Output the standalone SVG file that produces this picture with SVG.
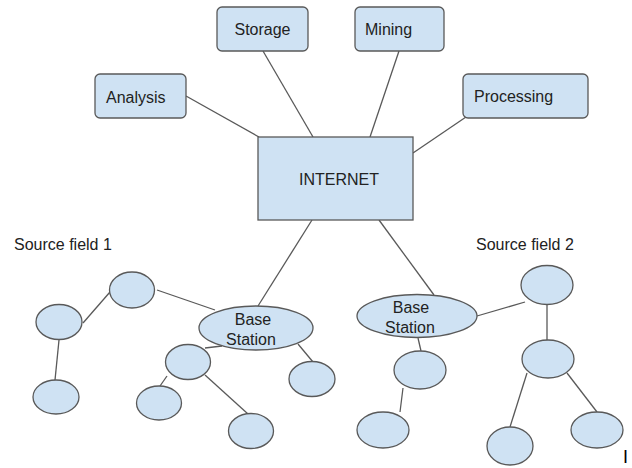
<svg xmlns="http://www.w3.org/2000/svg" width="632" height="468" viewBox="0 0 632 468">
<style>
.box{fill:#cfe2f3;stroke:#595959;stroke-width:1.3}
.nd{fill:#cfe2f3;stroke:#595959;stroke-width:1.3}
.ln{stroke:#595959;stroke-width:1.3;fill:none}
text{font-family:"Liberation Sans",Arial,sans-serif;font-size:16px;fill:#222}
.c{text-anchor:middle}
</style>
<rect width="632" height="468" fill="#ffffff"/>
<g id="connectors">
<line class="ln" x1="186" y1="96" x2="259" y2="137"/>
<line class="ln" x1="263" y1="51" x2="313" y2="137"/>
<line class="ln" x1="399" y1="51" x2="370" y2="137"/>
<line class="ln" x1="466" y1="117" x2="413" y2="153"/>
<line class="ln" x1="312" y1="220" x2="258" y2="306"/>
<line class="ln" x1="379" y1="220" x2="434" y2="295"/>
<line class="ln" x1="83" y1="323" x2="110" y2="292"/>
<line class="ln" x1="157" y1="290" x2="215" y2="310"/>
<line class="ln" x1="59" y1="340" x2="55" y2="380"/>
<line class="ln" x1="205" y1="348" x2="222" y2="346"/>
<line class="ln" x1="167" y1="376" x2="160" y2="386"/>
<line class="ln" x1="205" y1="375" x2="248" y2="414"/>
<line class="ln" x1="298" y1="344" x2="313" y2="362"/>
<line class="ln" x1="477" y1="316" x2="525" y2="302"/>
<line class="ln" x1="547" y1="304" x2="547" y2="340"/>
<line class="ln" x1="418" y1="338" x2="421" y2="351"/>
<line class="ln" x1="403" y1="388" x2="400" y2="412"/>
<line class="ln" x1="527" y1="373" x2="510" y2="427"/>
<line class="ln" x1="567" y1="373" x2="597" y2="412"/>
</g>
<g id="storage"><rect class="box" x="217" y="7" width="91" height="44" rx="5"/><text class="c" x="262.5" y="35">Storage</text></g>
<g id="mining"><rect class="box" x="355" y="7" width="89" height="44" rx="5"/><text x="365" y="35">Mining</text></g>
<g id="analysis"><rect class="box" x="95" y="74" width="91" height="44" rx="5"/><text x="106" y="103">Analysis</text></g>
<g id="processing"><rect class="box" x="463" y="74" width="125" height="44" rx="5"/><text x="474" y="102">Processing</text></g>
<g id="internet"><rect class="box" x="258" y="137" width="155" height="83"/><text class="c" x="339" y="185">INTERNET</text></g>
<g id="label1"><text x="14" y="250">Source field 1</text></g>
<g id="label2"><text x="476" y="250">Source field 2</text></g>
<g id="base1"><ellipse class="nd" cx="256" cy="328" rx="57" ry="22"/><text class="c" x="253" y="325">Base</text><text class="c" x="251" y="345">Station</text></g>
<g id="base2"><ellipse class="nd" cx="417" cy="316" rx="60" ry="21.5"/><text class="c" x="411" y="313">Base</text><text class="c" x="410" y="333">Station</text></g>
<g id="n1"><ellipse class="nd" cx="132" cy="290" rx="22.5" ry="18"/></g>
<g id="n2"><ellipse class="nd" cx="59" cy="322" rx="23" ry="17.5"/></g>
<g id="n3"><ellipse class="nd" cx="56" cy="397" rx="23" ry="17"/></g>
<g id="n4"><ellipse class="nd" cx="188" cy="362" rx="22.5" ry="17.5"/></g>
<g id="n5"><ellipse class="nd" cx="159" cy="403" rx="22.5" ry="17"/></g>
<g id="n6"><ellipse class="nd" cx="251" cy="431" rx="22.5" ry="17.5"/></g>
<g id="n7"><ellipse class="nd" cx="312" cy="379" rx="23" ry="17.5"/></g>
<g id="n8"><ellipse class="nd" cx="547" cy="285" rx="26" ry="19.5"/></g>
<g id="n9"><ellipse class="nd" cx="548" cy="359" rx="26" ry="19"/></g>
<g id="n10"><ellipse class="nd" cx="420" cy="370" rx="26" ry="19"/></g>
<g id="n11"><ellipse class="nd" cx="383" cy="430" rx="26" ry="18"/></g>
<g id="n12"><ellipse class="nd" cx="510" cy="446" rx="23" ry="19"/></g>
<g id="n13"><ellipse class="nd" cx="597" cy="430" rx="26" ry="18"/></g>
<g id="cursor"><text x="623" y="463" style="font-size:18px;fill:#000">I</text></g>
</svg>
